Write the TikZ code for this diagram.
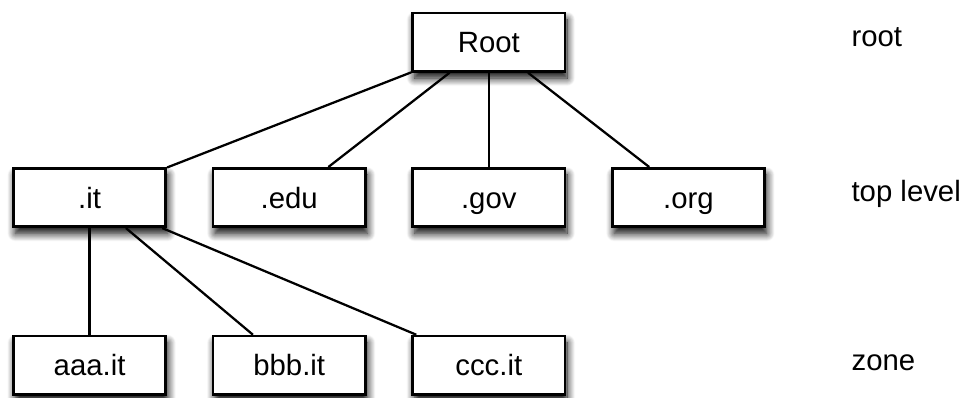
\documentclass[tikz,border=0pt]{standalone}
\usepackage{fontspec}
\setmainfont{Liberation Sans}
\usetikzlibrary{positioning,shadows.blur}

\begin{document}
\begin{tikzpicture}[node distance={33.4pt}, line width=1.7pt,
    main/.style = {draw, line width=2pt, fill=white, minimum width=114.3pt, minimum height=43.8pt,
      text height=15.8pt, text depth=0pt, font=\fontsize{22}{26}\selectfont,
      blur shadow={shadow xshift=1.5pt, shadow yshift=-5pt, shadow blur steps=12, shadow blur radius=6pt, shadow opacity=100}},
    level/.style = {anchor=base west, font=\fontsize{22}{26}\selectfont}]
    \useasboundingbox (0,0) rectangle (722.25pt,-298.5pt);
    \node[main] (root) at (366.6pt,-31.65pt) {Root};
    \node[main] (gov) [below=70.7pt of root] {.gov};
    \node[main] (edu) [left=of gov] {.edu};
    \node[main] (it) [left=of edu] {.it};
    \node[main] (org) [right=of gov] {.org};
    \node[main] (aaa) [below=80pt of it] {aaa.it};
    \node[main] (bbb) [right=of aaa] {bbb.it};
    \node[main] (ccc) [right=of bbb] {ccc.it};

    \node[level] (lroot) at (634.5pt,-35pt) {root};
    \node[level] (ltop) at (634.5pt,-151.3pt) {top level};
    \node[level] (lzone) at (634.5pt,-278pt) {zone};

    \draw (root) -- (it);
    \draw (root) -- (edu);
    \draw (root) -- (gov);
    \draw (root) -- (org);
    \draw (it) -- (aaa);
    \draw (it) -- (bbb);
    \draw (it) -- (ccc);
\end{tikzpicture}
\end{document}
